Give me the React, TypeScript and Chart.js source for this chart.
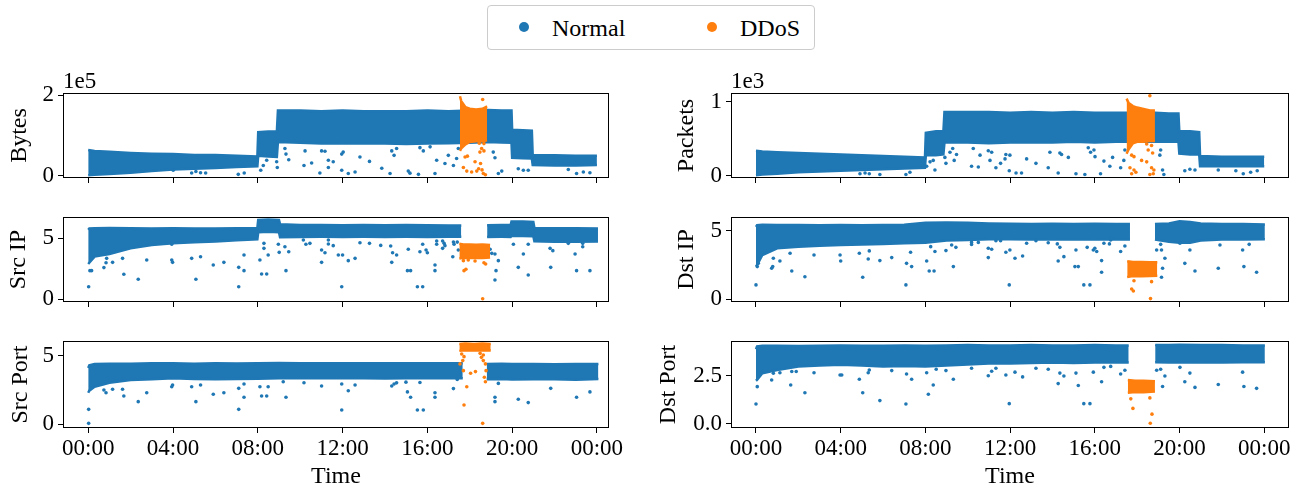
import React, { useEffect, useRef } from 'react';
import { Chart, registerables } from 'chart.js';

Chart.register(...registerables);

// ---------- styling ----------
const BLUE = '#1f77b4';
const ORANGE = '#ff7f0e';
const FONT = '"Liberation Serif", "Times New Roman", Times, "DejaVu Serif", serif';

// ---------- shared axis data ----------
const X_TICKS = [0, 4, 8, 12, 16, 20, 24];
const X_TICK_LABELS = ['00:00', '04:00', '08:00', '12:00', '16:00', '20:00', '00:00'];
const LEGEND_LABELS = ['Normal', 'DDoS'];

// ---------- Bytes (x1e5) ----------
const BYTES_T = [0.0, 0.3, 1, 2, 3, 4, 5, 6, 7, 7.98, 8.02, 8.5, 8.9, 8.95, 10, 11, 12, 13, 14, 15, 16, 17, 18, 18.85, 19.5, 19.97, 20.0, 20.5, 20.93, 20.97, 22, 23, 24.0];
const BYTES_HI = [0.64, 0.62, 0.6, 0.57, 0.55, 0.54, 0.52, 0.52, 0.5, 0.48, 1.08, 1.1, 1.1, 1.62, 1.62, 1.6, 1.62, 1.6, 1.6, 1.6, 1.62, 1.6, 1.62, 1.63, 1.62, 1.62, 1.14, 1.13, 1.12, 0.52, 0.51, 0.5, 0.5];
const BYTES_LO = [0.02, 0.03, 0.05, 0.08, 0.12, 0.16, 0.18, 0.2, 0.22, 0.24, 0.5, 0.48, 0.47, 0.84, 0.82, 0.8, 0.81, 0.8, 0.8, 0.79, 0.8, 0.81, 0.82, 0.84, 0.83, 0.82, 0.45, 0.44, 0.43, 0.27, 0.26, 0.26, 0.27];
const BYTES_DDOS_T = [17.54, 17.6, 17.8, 18.0, 18.3, 18.6, 18.82];
const BYTES_DDOS_HI = [1.97, 1.85, 1.7, 1.66, 1.64, 1.66, 1.72];
const BYTES_DDOS_LO = [0.62, 0.68, 0.78, 0.84, 0.86, 0.86, 0.88];
const BYTES_NORMAL_PTS = [[4.01, 0.14], [4.88, 0.075], [5.08, 0.11], [5.3, 0.08], [5.54, 0.075], [7.08, 0.04], [7.36, 0.075], [8.14, 0.14], [8.26, 0.26], [8.42, 0.39], [8.92, 0.21], [8.89, 0.35], [9.28, 0.68], [9.33, 0.54], [9.46, 0.4], [10.23, 0.62], [10.18, 0.26], [10.54, 0.32], [11.01, 0.62], [10.93, 0.075], [11.33, 0.39], [11.17, 0.61], [11.96, 0.54], [12.03, 0.59], [11.56, 0.35], [11.33, 0.21], [11.96, 0.14], [12.27, 0.06], [12.59, 0.1], [12.82, 0.47], [13.27, 0.36], [13.85, 0.19], [14.32, 0.62], [14.43, 0.51], [14.55, 0.68], [14.24, 0.06], [15.1, 0.12], [15.18, 0.07], [15.58, 0.04], [15.65, 0.7], [15.81, 0.62], [16.13, 0.72], [16.36, 0.06], [16.44, 0.39], [16.83, 0.31], [16.99, 0.51], [17.23, 0.26], [17.38, 0.43], [17.46, 0.68], [19.11, 0.59], [19.19, 0.45], [19.35, 0.06], [19.51, 0.12], [20.29, 0.18], [20.53, 0.14], [20.76, 0.14], [22.65, 0.16], [23.04, 0.06], [23.36, 0.1], [23.67, 0.08]];
const BYTES_DDOS_PTS = [[18.61, 1.89], [18.45, 0.81], [18.67, 0.8], [18.56, 0.68], [18.67, 0.62], [18.48, 0.59], [17.78, 0.47], [17.89, 0.49], [18.25, 0.35], [18.51, 0.31], [18.42, 0.18], [17.7, 0.21], [17.86, 0.12], [18.09, 0.1], [18.64, 0.06], [18.74, 0.03], [18.33, 0.12], [18.58, 0.15]];

// ---------- Packets (x1e3) ----------
const PKT_T = [0, 0.3, 1, 2, 3, 4, 5, 6, 7, 7.98, 8.02, 8.5, 8.85, 8.9, 10, 11, 12, 13, 14, 15, 16, 17, 18, 18.85, 19.5, 19.95, 19.99, 20.5, 20.93, 20.97, 22, 23, 24];
const PKT_HI = [0.34, 0.33, 0.32, 0.31, 0.3, 0.29, 0.28, 0.27, 0.26, 0.25, 0.58, 0.6, 0.6, 0.86, 0.86, 0.86, 0.85, 0.86, 0.85, 0.86, 0.85, 0.85, 0.85, 0.85, 0.84, 0.84, 0.6, 0.6, 0.59, 0.27, 0.26, 0.26, 0.26];
const PKT_LO = [0.01, 0.02, 0.03, 0.05, 0.06, 0.07, 0.08, 0.09, 0.1, 0.11, 0.28, 0.28, 0.29, 0.45, 0.45, 0.44, 0.45, 0.45, 0.45, 0.46, 0.45, 0.46, 0.46, 0.46, 0.46, 0.46, 0.3, 0.29, 0.29, 0.13, 0.13, 0.13, 0.13];
const PKT_DDOS_T = [17.5, 17.6, 17.8, 18.0, 18.3, 18.6, 18.84];
const PKT_DDOS_HI = [1.04, 0.98, 0.94, 0.92, 0.9, 0.88, 0.88];
const PKT_DDOS_LO = [0.3, 0.36, 0.44, 0.46, 0.46, 0.47, 0.47];
const PKT_NORMAL_PTS = [[4.91, 0.03], [5.15, 0.04], [5.35, 0.03], [5.85, 0.02], [7.08, 0.02], [7.27, 0.05], [8.06, 0.13], [8.22, 0.19], [8.37, 0.21], [8.45, 0.08], [8.92, 0.25], [8.97, 0.17], [9.16, 0.32], [9.29, 0.37], [9.36, 0.21], [9.47, 0.29], [10.18, 0.13], [10.26, 0.37], [10.5, 0.12], [10.58, 0.28], [10.97, 0.34], [11.13, 0.32], [11.05, 0.21], [11.33, 0.11], [11.55, 0.17], [11.8, 0.29], [11.76, 0.23], [11.99, 0.28], [11.96, 0.07], [12.28, 0.04], [12.54, 0.04], [12.78, 0.23], [13.22, 0.17], [13.8, 0.11], [13.88, 0.32], [14.35, 0.31], [14.27, 0.04], [14.43, 0.29], [14.75, 0.25], [15.11, 0.03], [15.53, 0.02], [15.69, 0.38], [15.8, 0.32], [15.96, 0.35], [16.01, 0.26], [16.27, 0.03], [16.43, 0.2], [16.71, 0.13], [16.84, 0.25], [17.22, 0.11], [17.37, 0.21], [17.42, 0.35], [19.11, 0.35], [19.07, 0.28], [19.2, 0.08], [19.26, 0.02], [20.25, 0.07], [20.49, 0.09], [20.73, 0.08], [21.83, 0.08], [22.66, 0.07], [23.01, 0.03], [23.36, 0.05], [23.67, 0.07]];
const PKT_DDOS_PTS = [[18.6, 1.08], [18.45, 0.43], [18.68, 0.41], [18.52, 0.35], [18.73, 0.31], [17.74, 0.28], [17.85, 0.26], [18.21, 0.21], [18.45, 0.19], [17.66, 0.11], [17.85, 0.08], [17.94, 0.05], [18.68, 0.11], [18.79, 0.08], [18.6, 0.02], [18.76, 0.03], [17.74, 0.03]];

// ---------- Src IP ----------
const SRCIP_T1 = [0.0, 0.05, 0.3, 1, 2, 3, 4, 5, 6, 7, 7.98, 8.02, 8.5, 9.0, 9.05, 10, 11, 12, 13, 14, 15, 16, 17, 17.6];
const SRCIP_HI1 = [5.7, 5.8, 5.82, 5.85, 5.82, 5.8, 5.82, 5.8, 5.8, 5.82, 5.85, 6.5, 6.55, 6.5, 6.15, 6.1, 6.1, 6.08, 6.1, 6.08, 6.1, 6.08, 6.05, 6.05];
const SRCIP_LO1 = [2.9, 3.0, 3.5, 3.72, 4.18, 4.45, 4.59, 4.68, 4.75, 4.85, 4.92, 5.5, 5.55, 5.5, 5.1, 5.12, 5.13, 5.12, 5.13, 5.12, 5.13, 5.12, 5.13, 5.13];
const SRCIP_T2 = [18.82, 19.5, 19.93, 19.97, 20.5, 21.0, 21.05, 22, 23, 24.05];
const SRCIP_HI2 = [6.08, 6.1, 6.1, 6.38, 6.38, 6.35, 5.85, 5.82, 5.82, 5.8];
const SRCIP_LO2 = [5.12, 5.13, 5.12, 5.2, 5.2, 5.18, 4.75, 4.72, 4.72, 4.75];
const SRCIP_DDOS_T = [17.51, 17.7, 18.0, 18.3, 18.6, 18.96];
const SRCIP_DDOS_HI = [4.55, 4.5, 4.5, 4.48, 4.5, 4.45];
const SRCIP_DDOS_LO = [3.35, 3.4, 3.38, 3.4, 3.38, 3.42];
const SRCIP_NORMAL_PTS = [[0.02, 1.03], [0.08, 2.35], [0.16, 2.35], [0.74, 2.6], [0.87, 3.36], [0.84, 3.0], [1.15, 3.03], [1.62, 3.36], [1.68, 2.05], [2.36, 1.64], [2.76, 3.22], [3.94, 3.22], [3.98, 3.03], [3.94, 4.51], [4.88, 3.36], [5.08, 1.64], [5.3, 3.49], [5.9, 2.81], [6.4, 3.03], [7.1, 1.03], [7.1, 2.62], [7.35, 2.35], [7.35, 3.63], [8.1, 3.22], [8.18, 2.07], [8.42, 2.07], [8.29, 4.59], [8.29, 4.18], [8.49, 3.63], [8.97, 4.51], [9.01, 3.85], [9.28, 4.31], [9.33, 2.35], [9.46, 3.9], [10.15, 4.86], [10.27, 4.51], [10.46, 4.59], [11.01, 4.04], [11.01, 3.03], [11.17, 3.82], [11.33, 4.86], [11.33, 4.53], [11.56, 4.4], [11.8, 3.63], [12.0, 3.63], [11.96, 1.03], [12.27, 3.17], [12.59, 3.36], [12.82, 4.64], [13.27, 4.59], [13.8, 4.42], [14.27, 4.37], [14.36, 3.82], [14.32, 3.03], [14.55, 3.63], [15.06, 2.35], [15.21, 2.35], [15.1, 4.1], [15.53, 1.03], [15.78, 1.03], [15.65, 3.9], [15.78, 4.51], [15.94, 4.04], [16.0, 3.82], [16.36, 2.81], [16.36, 2.35], [16.44, 4.78], [16.44, 4.51], [16.72, 4.78], [16.79, 4.59], [16.83, 4.4], [16.72, 4.18], [17.23, 4.69], [17.26, 4.51], [17.2, 3.49], [17.41, 4.69], [17.46, 4.04], [18.96, 4.1], [19.04, 3.77], [19.19, 3.71], [19.35, 3.17], [19.24, 2.35], [19.19, 1.58], [20.06, 4.51], [20.29, 2.62], [20.53, 3.71], [20.76, 4.51], [20.76, 1.99], [21.79, 4.18], [21.92, 3.99], [21.82, 2.62], [22.65, 4.59], [22.97, 3.71], [23.04, 2.35], [23.33, 4.59], [23.33, 4.31], [23.67, 2.35]];
const SRCIP_DDOS_PTS = [[17.73, 2.35], [17.82, 2.46], [17.7, 3.17], [17.93, 3.22], [18.25, 3.14], [18.67, 3.0], [18.75, 2.89], [18.61, 0.05]];

// ---------- Dst IP ----------
const DSTIP_T1 = [0, 0.05, 0.3, 1, 2, 3, 4, 5, 6, 7, 8, 9, 10, 11, 12, 13, 14, 15, 16, 17, 17.66];
const DSTIP_HI1 = [5.3, 5.42, 5.45, 5.44, 5.44, 5.42, 5.44, 5.42, 5.44, 5.45, 5.6, 5.62, 5.6, 5.55, 5.52, 5.5, 5.52, 5.5, 5.52, 5.5, 5.5];
const DSTIP_LO1 = [2.4, 2.5, 3.24, 3.73, 3.85, 3.92, 3.97, 4.0, 4.05, 4.1, 4.14, 4.3, 4.34, 4.4, 4.4, 4.38, 4.4, 4.38, 4.4, 4.38, 4.38];
const DSTIP_T2 = [18.84, 19.5, 20, 20.5, 21, 22, 23, 24.03];
const DSTIP_HI2 = [5.5, 5.55, 5.7, 5.65, 5.55, 5.5, 5.5, 5.48];
const DSTIP_LO2 = [4.38, 4.2, 4.14, 4.14, 4.3, 4.38, 4.38, 4.4];
const DSTIP_DDOS_T = [17.53, 17.8, 18.2, 18.6, 18.95];
const DSTIP_DDOS_HI = [2.78, 2.72, 2.72, 2.7, 2.7];
const DSTIP_DDOS_LO = [1.62, 1.7, 1.68, 1.7, 1.72];
const DSTIP_NORMAL_PTS = [[0.0, 1.05], [0.06, 2.39], [0.11, 2.63], [0.74, 2.27], [0.79, 2.39], [0.82, 3.0], [1.13, 2.8], [1.61, 3.37], [1.69, 2.07], [2.31, 1.65], [2.74, 3.24], [3.97, 3.24], [4.0, 2.8], [4.88, 3.37], [5.04, 1.61], [5.3, 2.95], [5.35, 3.54], [5.85, 2.83], [6.41, 3.05], [7.08, 1.05], [7.11, 2.63], [7.3, 3.44], [7.35, 2.39], [8.06, 2.8], [8.18, 2.07], [8.41, 2.07], [8.25, 3.85], [8.45, 3.49], [8.97, 3.56], [9.24, 3.97], [9.32, 2.39], [9.44, 3.8], [10.18, 4.01], [10.18, 4.16], [10.5, 4.16], [10.97, 3.73], [11.13, 3.66], [10.97, 3.05], [11.33, 4.29], [11.55, 4.29], [11.8, 3.44], [11.99, 3.61], [11.96, 1.05], [12.23, 3.0], [12.59, 3.17], [12.78, 4.1], [13.22, 4.29], [13.8, 4.14], [14.23, 4.05], [14.35, 3.8], [14.54, 3.12], [14.27, 2.8], [15.11, 3.61], [15.06, 2.39], [15.22, 2.39], [15.48, 1.05], [15.77, 1.05], [15.64, 3.8], [15.93, 3.61], [16.0, 3.73], [16.09, 3.49], [16.32, 2.83], [16.32, 1.98], [16.43, 4.1], [16.69, 4.05], [16.75, 4.34], [16.79, 4.46], [17.22, 3.49], [17.42, 3.9], [18.92, 3.61], [19.15, 3.61], [19.11, 4.02], [19.31, 3.0], [19.2, 2.27], [19.15, 1.61], [20.02, 4.1], [20.25, 2.63], [20.49, 3.61], [20.73, 2.07], [21.83, 2.27], [21.91, 3.97], [22.98, 3.61], [23.04, 2.39], [23.29, 4.02], [23.64, 1.98]];
const DSTIP_DDOS_PTS = [[17.85, 1.36], [18.68, 1.29], [17.74, 0.75], [17.82, 0.61], [18.63, 0.05]];

// ---------- Src Port ----------
const SRCPORT_T1 = [0, 0.05, 0.3, 1, 2, 3, 4, 5, 6, 7, 8, 9, 10, 11, 12, 13, 14, 15, 16, 17, 17.67];
const SRCPORT_HI1 = [4.1, 4.3, 4.4, 4.42, 4.42, 4.44, 4.45, 4.42, 4.44, 4.43, 4.45, 4.46, 4.44, 4.45, 4.44, 4.44, 4.45, 4.44, 4.44, 4.45, 4.44];
const SRCPORT_LO1 = [2.3, 2.45, 2.74, 3.03, 3.23, 3.28, 3.35, 3.3, 3.28, 3.3, 3.32, 3.35, 3.35, 3.35, 3.36, 3.35, 3.34, 3.35, 3.36, 3.35, 3.35];
const SRCPORT_T2 = [18.8, 19.5, 20, 21, 22, 23, 24.07];
const SRCPORT_HI2 = [4.4, 4.42, 4.4, 4.4, 4.38, 4.4, 4.4];
const SRCPORT_LO2 = [3.28, 3.3, 3.26, 3.28, 3.28, 3.25, 3.3];
const SRCPORT_DDOS_T = [17.51, 17.8, 18.2, 18.6, 18.99];
const SRCPORT_DDOS_HI = [5.85, 5.88, 5.86, 5.88, 5.85];
const SRCPORT_DDOS_LO = [5.35, 5.4, 5.38, 5.4, 5.37];
const SRCPORT_NORMAL_PTS = [[0.02, 1.09], [0.02, 0.07], [0.74, 2.5], [0.84, 2.3], [1.15, 2.55], [1.62, 2.55], [1.68, 2.06], [2.36, 1.65], [2.76, 2.3], [3.94, 2.74], [3.98, 2.86], [4.88, 2.74], [5.08, 1.65], [5.3, 2.86], [5.9, 2.19], [6.4, 2.3], [7.1, 1.09], [7.1, 2.62], [7.35, 2.94], [7.35, 1.97], [8.1, 2.74], [8.18, 2.06], [8.42, 2.06], [8.49, 2.74], [9.2, 3.1], [9.33, 1.97], [10.18, 3.03], [11.01, 2.79], [11.96, 2.94], [12.27, 2.45], [12.59, 2.86], [11.96, 1.04], [14.32, 2.79], [14.43, 2.94], [14.55, 3.02], [14.99, 3.07], [15.06, 2.36], [15.21, 1.97], [15.53, 1.04], [15.81, 1.04], [15.65, 3.05], [16.36, 2.3], [16.36, 1.97], [17.23, 2.6], [17.41, 3.26], [19.19, 1.97], [19.19, 1.65], [19.35, 2.98], [20.29, 1.82], [20.76, 1.58], [21.82, 2.62], [23.04, 1.97], [23.67, 2.36]];
const SRCPORT_DDOS_PTS = [[17.62, 5.12], [17.73, 4.93], [17.67, 4.64], [17.54, 4.4], [17.7, 3.91], [18.04, 3.72], [18.27, 3.84], [18.49, 5.17], [18.55, 4.88], [18.64, 5.05], [18.64, 4.64], [18.74, 4.4], [18.77, 3.91], [18.69, 3.43], [18.74, 3.1], [17.86, 2.74], [17.73, 1.41], [18.61, 0.07]];

// ---------- Dst Port ----------
const DSTPORT_T1 = [0, 0.05, 0.3, 1, 2, 3, 4, 5, 6, 7, 8, 9, 10, 11, 12, 13, 14, 15, 16, 17, 17.6];
const DSTPORT_HI1 = [3.9, 4.05, 4.08, 4.08, 4.07, 4.08, 4.1, 4.08, 4.08, 4.1, 4.08, 4.1, 4.12, 4.1, 4.1, 4.12, 4.1, 4.1, 4.12, 4.1, 4.1];
const DSTPORT_LO1 = [2.25, 2.3, 2.64, 2.81, 2.99, 3.05, 3.08, 3.05, 3.0, 3.02, 3.0, 3.05, 3.1, 3.15, 3.15, 3.18, 3.2, 3.18, 3.2, 3.2, 3.2];
const DSTPORT_T2 = [18.85, 19.5, 20, 21, 22, 23, 24.03];
const DSTPORT_HI2 = [4.12, 4.12, 4.14, 4.12, 4.12, 4.1, 4.1];
const DSTPORT_LO2 = [3.22, 3.2, 3.2, 3.22, 3.2, 3.22, 3.22];
const DSTPORT_DDOS_T = [17.56, 17.9, 18.3, 18.84];
const DSTPORT_DDOS_HI = [2.29, 2.25, 2.25, 2.22];
const DSTPORT_DDOS_LO = [1.62, 1.66, 1.65, 1.68];
const DSTPORT_NORMAL_PTS = [[0.0, 1.03], [0.06, 1.94], [0.74, 2.29], [0.82, 2.64], [1.13, 2.67], [1.64, 2.03], [1.69, 2.73], [1.9, 2.73], [2.31, 1.62], [2.74, 2.67], [3.97, 2.55], [4.05, 2.55], [4.88, 2.33], [5.04, 1.62], [5.3, 2.67], [5.35, 2.81], [5.85, 1.21], [6.41, 2.78], [7.08, 1.03], [7.11, 2.6], [7.35, 2.33], [8.06, 2.67], [8.14, 1.54], [8.37, 2.03], [8.51, 2.85], [8.97, 2.78], [9.32, 2.33], [10.18, 2.9], [10.97, 2.51], [11.13, 2.75], [11.33, 2.9], [11.8, 2.55], [11.96, 1.05], [12.23, 2.7], [12.59, 2.45], [13.22, 2.9], [13.8, 2.85], [14.27, 2.1], [14.35, 2.65], [14.54, 2.5], [15.11, 2.65], [15.22, 2.0], [15.48, 1.05], [15.77, 1.05], [15.93, 2.7], [16.32, 2.2], [16.43, 2.95], [16.75, 3.0], [17.22, 2.6], [17.42, 2.8], [18.92, 2.8], [19.11, 2.85], [19.2, 1.95], [19.31, 2.5], [20.02, 2.95], [20.25, 2.2], [20.49, 2.65], [20.73, 1.9], [21.83, 2.05], [22.98, 2.7], [23.04, 1.95], [23.64, 1.85]];
const DSTPORT_DDOS_PTS = [[17.7, 1.3], [17.8, 0.8], [18.6, 1.35], [18.7, 0.5], [18.62, 0.02]];

// ---------- panel layout (positions only) ----------
type Band = { t: number[]; hi: number[]; lo: number[] };
type Spec = {
  area: { l: number; t: number; r: number; b: number };
  titleX: number;
  xMin: number; xMax: number;
  yMin: number; yMax: number;
  yTicks: number[]; yTickLabels: string[];
  ylabel: string;
  showX: boolean;
  xH: number;
  normalBands: Band[];
  ddosBand: Band;
  normalPts: number[][];
  ddosPts: number[][];
};

const LEFT_X = { xMin: -1.19, xMax: 24.57 };
const RIGHT_X = { xMin: -1.18, xMax: 25.17 };

const SPECS: Spec[] = [
  {
    area: { l: 63, t: 93, r: 609, b: 178 }, titleX: 19, ...LEFT_X,
    yMin: -0.05, yMax: 2.05, yTicks: [0, 2], yTickLabels: ['0', '2'], ylabel: 'Bytes', showX: false, xH: 18,
    normalBands: [{ t: BYTES_T, hi: BYTES_HI, lo: BYTES_LO }],
    ddosBand: { t: BYTES_DDOS_T, hi: BYTES_DDOS_HI, lo: BYTES_DDOS_LO },
    normalPts: BYTES_NORMAL_PTS, ddosPts: BYTES_DDOS_PTS,
  },
  {
    area: { l: 731, t: 93, r: 1289, b: 178 }, titleX: 686, ...RIGHT_X,
    yMin: -0.027, yMax: 1.116, yTicks: [0, 1], yTickLabels: ['0', '1'], ylabel: 'Packets', showX: false, xH: 18,
    normalBands: [{ t: PKT_T, hi: PKT_HI, lo: PKT_LO }],
    ddosBand: { t: PKT_DDOS_T, hi: PKT_DDOS_HI, lo: PKT_DDOS_LO },
    normalPts: PKT_NORMAL_PTS, ddosPts: PKT_DDOS_PTS,
  },
  {
    area: { l: 63, t: 217, r: 609, b: 302 }, titleX: 18, ...LEFT_X,
    yMin: -0.22, yMax: 6.75, yTicks: [0, 5], yTickLabels: ['0', '5'], ylabel: 'Src IP', showX: false, xH: 18,
    normalBands: [{ t: SRCIP_T1, hi: SRCIP_HI1, lo: SRCIP_LO1 }, { t: SRCIP_T2, hi: SRCIP_HI2, lo: SRCIP_LO2 }],
    ddosBand: { t: SRCIP_DDOS_T, hi: SRCIP_DDOS_HI, lo: SRCIP_DDOS_LO },
    normalPts: SRCIP_NORMAL_PTS, ddosPts: SRCIP_DDOS_PTS,
  },
  {
    area: { l: 731, t: 217, r: 1289, b: 302 }, titleX: 686, ...RIGHT_X,
    yMin: -0.2, yMax: 6.02, yTicks: [0, 5], yTickLabels: ['0', '5'], ylabel: 'Dst IP', showX: false, xH: 18,
    normalBands: [{ t: DSTIP_T1, hi: DSTIP_HI1, lo: DSTIP_LO1 }, { t: DSTIP_T2, hi: DSTIP_HI2, lo: DSTIP_LO2 }],
    ddosBand: { t: DSTIP_DDOS_T, hi: DSTIP_DDOS_HI, lo: DSTIP_DDOS_LO },
    normalPts: DSTIP_NORMAL_PTS, ddosPts: DSTIP_DDOS_PTS,
  },
  {
    area: { l: 63, t: 341, r: 609, b: 428 }, titleX: 20, ...LEFT_X,
    yMin: -0.27, yMax: 6.07, yTicks: [0, 5], yTickLabels: ['0', '5'], ylabel: 'Src Port', showX: true, xH: 63,
    normalBands: [{ t: SRCPORT_T1, hi: SRCPORT_HI1, lo: SRCPORT_LO1 }, { t: SRCPORT_T2, hi: SRCPORT_HI2, lo: SRCPORT_LO2 }],
    ddosBand: { t: SRCPORT_DDOS_T, hi: SRCPORT_DDOS_HI, lo: SRCPORT_DDOS_LO },
    normalPts: SRCPORT_NORMAL_PTS, ddosPts: SRCPORT_DDOS_PTS,
  },
  {
    area: { l: 731, t: 341, r: 1289, b: 428 }, titleX: 668, ...RIGHT_X,
    yMin: -0.225, yMax: 4.33, yTicks: [0, 2.5], yTickLabels: ['0.0', '2.5'], ylabel: 'Dst Port', showX: true, xH: 63,
    normalBands: [{ t: DSTPORT_T1, hi: DSTPORT_HI1, lo: DSTPORT_LO1 }, { t: DSTPORT_T2, hi: DSTPORT_HI2, lo: DSTPORT_LO2 }],
    ddosBand: { t: DSTPORT_DDOS_T, hi: DSTPORT_DDOS_HI, lo: DSTPORT_DDOS_LO },
    normalPts: DSTPORT_NORMAL_PTS, ddosPts: DSTPORT_DDOS_PTS,
  },
];

const PAD_TOP = 24;
const PAD_RIGHT = 20;

function canvasBox(s: Spec) {
  const left = Math.round(s.titleX - 14.4);
  const top = s.area.t - PAD_TOP;
  return { left, top, width: s.area.r + PAD_RIGHT - left, height: s.area.b + s.xH - top };
}

function bandDatasets(b: Band, color: string, order: number) {
  const common = {
    borderColor: color, backgroundColor: color, borderWidth: 2.5, pointRadius: 0,
    pointHoverRadius: 0, tension: 0, order, showLine: true,
  };
  return [
    { ...common, data: b.t.map((t, i) => ({ x: t, y: b.hi[i] })), fill: false },
    { ...common, data: b.t.map((t, i) => ({ x: t, y: b.lo[i] })), fill: '-1' },
  ];
}

function pointDataset(pts: number[][], color: string, order: number) {
  return {
    data: pts.map(p => ({ x: p[0], y: p[1] })), showLine: false, pointRadius: 1.8,
    pointBorderWidth: 0, pointBackgroundColor: color, borderColor: color, backgroundColor: color, order,
  };
}

const boxPlugin = {
  id: 'boxFrame',
  afterDatasetsDraw(chart: any) {
    const { ctx, chartArea } = chart;
    ctx.save();
    ctx.strokeStyle = '#000';
    ctx.lineWidth = 1;
    ctx.strokeRect(chartArea.left + 0.5, chartArea.top + 0.5, chartArea.right - chartArea.left - 1, chartArea.bottom - chartArea.top - 1);
    ctx.restore();
  },
};

function buildConfig(s: Spec): any {
  const box = canvasBox(s);
  const datasets: any[] = [];
  s.normalBands.forEach(b => datasets.push(...bandDatasets(b, BLUE, 3)));
  datasets.push(pointDataset(s.normalPts, BLUE, 2));
  datasets.push(...bandDatasets(s.ddosBand, ORANGE, 1));
  datasets.push(pointDataset(s.ddosPts, ORANGE, 0));
  const tickFont = { family: FONT, size: 23 };
  const titleFont = { family: FONT, size: 24 };
  return {
    type: 'line',
    data: { datasets },
    plugins: [boxPlugin],
    options: {
      responsive: false,
      animation: false,
      events: [],
      layout: { padding: { left: 0, top: PAD_TOP, right: PAD_RIGHT, bottom: 0 } },
      plugins: { legend: { display: false }, tooltip: { enabled: false } },
      scales: {
        x: {
          type: 'linear', min: s.xMin, max: s.xMax,
          afterBuildTicks: (sc: any) => { sc.ticks = X_TICKS.map(v => ({ value: v })); },
          afterFit: (sc: any) => { sc.height = s.xH; },
          ticks: {
            autoSkip: false, maxRotation: 0, minRotation: 0, padding: 2, color: '#000', font: tickFont,
            callback: (_v: any, i: number) => (s.showX ? X_TICK_LABELS[i] : ''),
          },
          grid: { drawOnChartArea: false, drawTicks: true, tickLength: 5, color: '#000' },
          border: { display: false },
          title: { display: s.showX, text: 'Time', color: '#000', font: titleFont, padding: 0 },
        },
        y: {
          type: 'linear', min: s.yMin, max: s.yMax,
          afterBuildTicks: (sc: any) => { sc.ticks = s.yTicks.map(v => ({ value: v })); },
          afterFit: (sc: any) => { sc.width = s.area.l - box.left; },
          ticks: {
            autoSkip: false, padding: 4, color: '#000', font: tickFont,
            callback: (_v: any, i: number) => s.yTickLabels[i],
          },
          grid: { drawOnChartArea: false, drawTicks: true, tickLength: 5, color: '#000' },
          border: { display: false },
          title: { display: true, text: s.ylabel, color: '#000', font: titleFont, padding: 0 },
        },
      },
    },
  };
}

function Panel({ spec }: { spec: Spec }) {
  const ref = useRef<HTMLCanvasElement>(null);
  const box = canvasBox(spec);
  useEffect(() => {
    const chart = new Chart(ref.current as HTMLCanvasElement, buildConfig(spec));
    return () => chart.destroy();
  }, [spec]);
  return (
    <canvas
      ref={ref}
      width={box.width}
      height={box.height}
      style={{ position: 'absolute', left: box.left, top: box.top, width: box.width, height: box.height }}
    />
  );
}

export default function App() {
  const textStyle: React.CSSProperties = { fontFamily: FONT, fontSize: 24, color: '#000', lineHeight: 1 };
  return (
    <div style={{ position: 'absolute', left: 0, top: 0, width: 1308, height: 493, background: '#fff', overflow: 'hidden' }}>
      {SPECS.map((s, i) => <Panel key={i} spec={s} />)}
      <span style={{ ...textStyle, fontSize: 23, position: 'absolute', left: 63, top: 69 }}>1e5</span>
      <span style={{ ...textStyle, fontSize: 23, position: 'absolute', left: 731, top: 69 }}>1e3</span>
      <div style={{
        position: 'absolute', left: 487, top: 5, width: 328, height: 45, boxSizing: 'border-box',
        border: '1px solid #cccccc', borderRadius: 4, background: '#fff',
      }}>
        <span style={{ position: 'absolute', left: 31, top: 16, width: 10, height: 10, borderRadius: 5, background: BLUE }} />
        <span style={{ ...textStyle, position: 'absolute', left: 64, top: 10 }}>{LEGEND_LABELS[0]}</span>
        <span style={{ position: 'absolute', left: 219, top: 16, width: 10, height: 10, borderRadius: 5, background: ORANGE }} />
        <span style={{ ...textStyle, position: 'absolute', left: 252, top: 10 }}>{LEGEND_LABELS[1]}</span>
      </div>
    </div>
  );
}
